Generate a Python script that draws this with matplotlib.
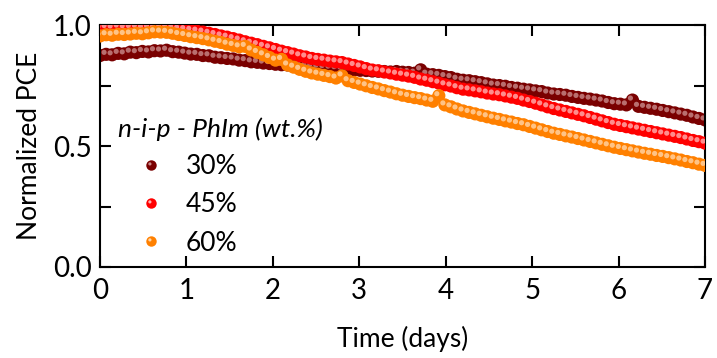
import numpy as np
import matplotlib
matplotlib.use("Agg")
import matplotlib.pyplot as plt
from matplotlib import transforms
from matplotlib.legend_handler import HandlerTuple
from matplotlib.lines import Line2D
from matplotlib.path import Path
from matplotlib.ticker import MultipleLocator

plt.rcParams['font.family'] = ['Lato', 'DejaVu Sans']

# sampling times (days)
days = np.linspace(0, 7, 101)

# normalized PCE
pce_30 = [0.874, 0.879, 0.877, 0.883, 0.881, 0.888,
          0.886, 0.891, 0.889, 0.894, 0.893,
          0.896, 0.890, 0.888, 0.884, 0.880,
          0.879, 0.874, 0.873, 0.867, 0.865,
          0.862, 0.860, 0.855, 0.853, 0.848,
          0.846, 0.843, 0.841, 0.838, 0.836,
          0.835, 0.832, 0.833, 0.829, 0.828,
          0.826, 0.824, 0.822, 0.820, 0.818,
          0.817, 0.815, 0.813, 0.812, 0.810,
          0.809, 0.808, 0.806, 0.808, 0.805,
          0.804, 0.801, 0.815, 0.797, 0.795,
          0.792, 0.787, 0.783, 0.776, 0.772,
          0.770, 0.766, 0.762, 0.757, 0.752,
          0.750, 0.747, 0.742, 0.739, 0.735,
          0.732, 0.728, 0.725, 0.719, 0.715,
          0.713, 0.710, 0.705, 0.701, 0.697,
          0.694, 0.690, 0.686, 0.680, 0.675,
          0.673, 0.670, 0.690, 0.664, 0.660,
          0.656, 0.652, 0.647, 0.642, 0.637,
          0.632, 0.627, 0.620, 0.614, 0.608]

pce_45 = [0.986, 0.990, 0.988, 0.992, 0.989, 0.990,
          0.991, 0.987, 0.990, 0.986, 0.988,
          0.987, 0.985, 0.983, 0.981, 0.978,
          0.975, 0.971, 0.966, 0.961, 0.955,
          0.950, 0.944, 0.938, 0.931, 0.925,
          0.919, 0.912, 0.906, 0.899, 0.892,
          0.886, 0.880, 0.873, 0.868, 0.862,
          0.858, 0.855, 0.851, 0.848, 0.845,
          0.839, 0.833, 0.827, 0.820, 0.814,
          0.811, 0.806, 0.802, 0.797, 0.793,
          0.789, 0.784, 0.777, 0.772, 0.766,
          0.760, 0.753, 0.748, 0.741, 0.735,
          0.732, 0.728, 0.724, 0.719, 0.715,
          0.712, 0.707, 0.702, 0.697, 0.690,
          0.684, 0.677, 0.670, 0.662, 0.655,
          0.649, 0.643, 0.637, 0.631, 0.625,
          0.618, 0.611, 0.604, 0.597, 0.590,
          0.585, 0.580, 0.575, 0.570, 0.565,
          0.560, 0.555, 0.550, 0.545, 0.540,
          0.535, 0.529, 0.523, 0.518, 0.512]

pce_60 = [0.955, 0.960, 0.958, 0.962, 0.961, 0.963,
          0.966, 0.964, 0.968, 0.972, 0.971,
          0.970, 0.966, 0.961, 0.957, 0.952,
          0.948, 0.944, 0.939, 0.933, 0.928,
          0.921, 0.916, 0.910, 0.912, 0.897,
          0.887, 0.877, 0.866, 0.855, 0.858,
          0.835, 0.826, 0.817, 0.809, 0.802,
          0.797, 0.792, 0.787, 0.781, 0.790,
          0.770, 0.763, 0.756, 0.749, 0.742,
          0.736, 0.729, 0.723, 0.716, 0.710,
          0.705, 0.700, 0.696, 0.690, 0.685,
          0.708, 0.670, 0.662, 0.653, 0.645,
          0.639, 0.633, 0.627, 0.621, 0.615,
          0.610, 0.604, 0.599, 0.593, 0.588,
          0.581, 0.574, 0.567, 0.560, 0.553,
          0.548, 0.542, 0.537, 0.531, 0.525,
          0.519, 0.513, 0.507, 0.501, 0.495,
          0.490, 0.485, 0.480, 0.475, 0.470,
          0.466, 0.461, 0.457, 0.452, 0.447,
          0.442, 0.436, 0.431, 0.425, 0.420]

labels = ['30%', '45%', '60%']
series = [pce_30, pce_45, pce_60]
colors = ['#7a0000', '#ff0000', '#ff8000']
shines = ['#c98a8a', '#ffb0b0', '#ffd5a8']

fig = plt.figure(figsize=(7.17, 3.58), dpi=100)
ax = fig.add_axes([0.1395, 0.2542, 0.8438, 0.6758])

# small offset so the highlight sits up-left on each sphere
shine_tf = transforms.offset_copy(ax.transData, fig=fig, x=-2, y=2, units='dots')

# off-centre dot for the legend highlight
circ = Path.unit_circle()
shine_marker = Path(circ.vertices * 0.5 + [-0.5, 0.5], circ.codes)

handles = []
for k, (vals, c, sh) in enumerate(zip(series, colors, shines)):
    ax.scatter(days, vals, s=90, color=c, edgecolors='none', zorder=2 + k)
    ax.scatter(days, vals, s=14, color=sh, edgecolors='none', zorder=2 + k,
               transform=shine_tf, alpha=0.8)
    h1 = Line2D([], [], ls='none', marker='o', ms=7.5, mfc=c, mec='none')
    h2 = Line2D([], [], ls='none', marker=shine_marker, ms=4.6, mfc=sh, mec='none')
    handles.append((h1, h2))

ax.set_xlim(0, 7)
ax.set_ylim(0, 1)
ax.xaxis.set_major_locator(MultipleLocator(1))
ax.yaxis.set_major_locator(MultipleLocator(0.5))
ax.yaxis.set_minor_locator(MultipleLocator(0.25))
ax.yaxis.set_major_formatter(plt.FormatStrFormatter('%.1f'))
ax.tick_params(which='both', direction='in', top=True, right=True,
               length=8, width=1.5, labelsize=20)
ax.tick_params(axis='x', pad=8)
ax.tick_params(axis='y', pad=6)
for sp in ax.spines.values():
    sp.set_linewidth(1.5)

ax.set_xlabel('Time (days)', fontsize=19, labelpad=16)
ax.set_ylabel('Normalized PCE', fontsize=19, labelpad=8)

leg = ax.legend(handles, labels, handler_map={tuple: HandlerTuple(ndivide=1)},
                title='n-i-p - PhIm (wt.%)', loc='upper left',
                bbox_to_anchor=(0.03, 0.618), frameon=False, fontsize=19,
                title_fontsize=19, handlelength=2.5, handletextpad=0.05,
                labelspacing=0.5, borderaxespad=0, borderpad=0,
                alignment='left')
leg.get_title().set_fontstyle('italic')

fig.savefig('out.png', dpi=100)
